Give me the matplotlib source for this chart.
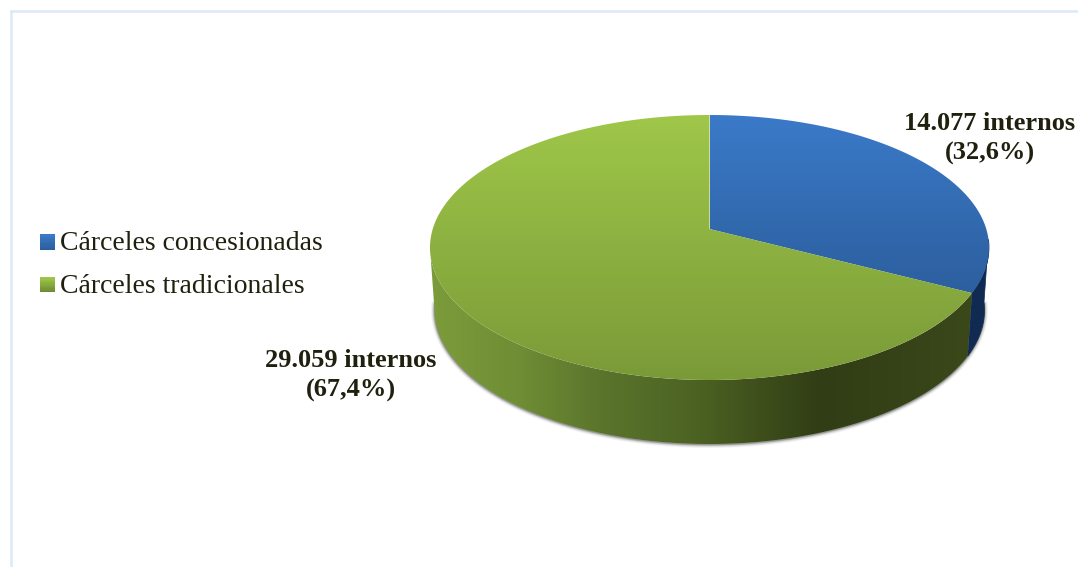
import numpy as np
import matplotlib
matplotlib.use("Agg")
import matplotlib.pyplot as plt
from matplotlib.colors import LinearSegmentedColormap
from matplotlib.legend_handler import HandlerBase
from matplotlib.patches import Patch, Polygon, Rectangle

# Data
categories = ["Cárceles concesionadas", "Cárceles tradicionales"]
inmates = [14077, 29059]
value_labels = ["14.077 internos\n(32,6%)", "29.059 internos\n(67,4%)"]

# Pie geometry, in pixel-like axes units
CX, CY, RX, RY = 709.5, 247.5, 279.5, 132.5
APEX_Y = 229.0
BX, BY, BRX, BRY = 709.5, 310.0, 275.0, 134.0

TEXT = "#20200f"
BLUE_TOP = [(0.0, "#3b7ac9"), (1.0, "#2c5f9e")]
GREEN_TOP = [(0.0, "#9fc749"), (1.0, "#7a9a38")]
GREEN_SIDE = [(0.0, "#7c9c3b"), (0.16, "#6f8e35"), (0.32, "#5a742c"),
              (0.5, "#4b6122"), (0.72, "#313d15"), (1.0, "#3a481a")]
BLUE_SIDE = "#102a52"

fig = plt.figure(figsize=(10.78, 5.67), dpi=100)
ax = fig.add_axes([0, 0, 1, 1])
ax.set_axis_off()


def perspective_angle(fraction):
    """Clockwise share of the pie -> ellipse angle, with the hub seen off-centre."""
    a = (CY - APEX_Y) / RY
    p = 1j * a / (1 + np.sqrt(1 - a * a))
    z = np.exp(1j * (np.pi / 2 - 2 * np.pi * fraction))
    return np.angle((z + p) / (1 + np.conj(p) * z))


def top_xy(theta):
    return CX + RX * np.cos(theta), CY - RY * np.sin(theta)


def base_xy(theta):
    return BX + BRX * np.cos(theta), BY - BRY * np.sin(theta)


def gradient_fill(vertices, stops, vertical=True, zorder=2):
    poly = Polygon(vertices, closed=True, transform=ax.transData,
                   facecolor="none", edgecolor="none")
    ax.add_patch(poly)
    cmap = LinearSegmentedColormap.from_list("fill", stops)
    ramp = np.linspace(0, 1, 256)
    ramp = ramp[:, None] if vertical else ramp[None, :]
    xs, ys = vertices[:, 0], vertices[:, 1]
    img = ax.imshow(ramp, cmap=cmap, vmin=0, vmax=1, aspect="auto", zorder=zorder,
                    interpolation="bilinear",
                    extent=(xs.min(), xs.max(), ys.max(), ys.min()))
    img.set_clip_path(poly)


share = inmates[0] / sum(inmates)
split = perspective_angle(share)
start = np.pi / 2

# Soft shadow under the rim
rim = np.linspace(0.05, -np.pi - 0.05, 300)
bx, by = base_xy(rim)
for width, alpha in [(7, 0.05), (5, 0.08), (3, 0.14), (1.5, 0.2)]:
    ax.plot(bx, by + 0.5, color="black", lw=width * 0.72, alpha=alpha, zorder=1,
            solid_capstyle="round")

# Rim: blue part on the right, then the long green part
arc = np.linspace(0.06, split, 60)
tx, ty = top_xy(arc)
bx, by = base_xy(arc)
ax.add_patch(Polygon(np.r_[np.c_[tx, ty], np.c_[bx, by][::-1]], closed=True,
                     facecolor=BLUE_SIDE, edgecolor=BLUE_SIDE, lw=0.5, zorder=2))

arc = np.linspace(split, -np.pi, 300)
tx, ty = top_xy(arc)
bx, by = base_xy(arc)
gradient_fill(np.r_[np.c_[tx, ty], np.c_[bx, by][::-1]], GREEN_SIDE, vertical=False)

# Top face of both slices
hub = np.array([[CX, APEX_Y]])
arc = np.linspace(start, split, 200)
gradient_fill(np.r_[hub, np.c_[top_xy(arc)]], BLUE_TOP, zorder=3)
arc = np.linspace(split, start - 2 * np.pi, 500)
gradient_fill(np.r_[hub, np.c_[top_xy(arc)]], GREEN_TOP, zorder=3)

# Value labels
font = {"family": "Liberation Serif", "color": TEXT}
ax.text(989.5, 138.5, value_labels[0], ha="center", va="center", fontsize=19,
        fontweight="bold", linespacing=1.42, zorder=5, **font)
ax.text(351, 375.5, value_labels[1], ha="center", va="center", fontsize=19,
        fontweight="bold", linespacing=1.42, zorder=5, **font)

# Chart frame: only the top and left edges are visible
ax.plot([10.5, 1078], [10.5, 10.5], color="#dde8f8", lw=1.8, zorder=0)
ax.plot([10.5, 10.5], [10.5, 567], color="#dde8f8", lw=1.8, zorder=0)


class GradientSwatch(HandlerBase):
    """Legend key drawn as thin stacked strips to show the slice's gradient."""

    def __init__(self, stops):
        super().__init__()
        self.cmap = LinearSegmentedColormap.from_list("key", stops)

    def create_artists(self, legend, orig_handle, xdescent, ydescent, width, height,
                       fontsize, trans):
        strips = []
        n = 12
        side = 10.8
        y0 = ydescent + (height - side) / 2 - 1.0
        for i in range(n):
            strips.append(Rectangle((xdescent, y0 + side * (n - 1 - i) / n), side, side / n + 0.2,
                                    facecolor=self.cmap(i / (n - 1)), edgecolor="none",
                                    transform=trans))
        return strips


handles = [Patch(label=categories[0]), Patch(label=categories[1])]
handler_map = {handles[0]: GradientSwatch(BLUE_TOP),
               handles[1]: GradientSwatch([(0.0, "#9fc749"), (1.0, "#6f8b33")])}
ax.legend(handles=handles, handler_map=handler_map, loc="upper left",
          bbox_to_anchor=(40, 231), bbox_transform=ax.transData, frameon=False,
          prop={"family": "Liberation Serif", "size": 20}, labelcolor=TEXT,
          borderpad=0, borderaxespad=0, handlelength=0.54, handletextpad=0.18,
          labelspacing=0.62)

ax.set_xlim(0, 1078)
ax.set_ylim(567, 0)
fig.savefig("out.png", dpi=100, facecolor="white")
